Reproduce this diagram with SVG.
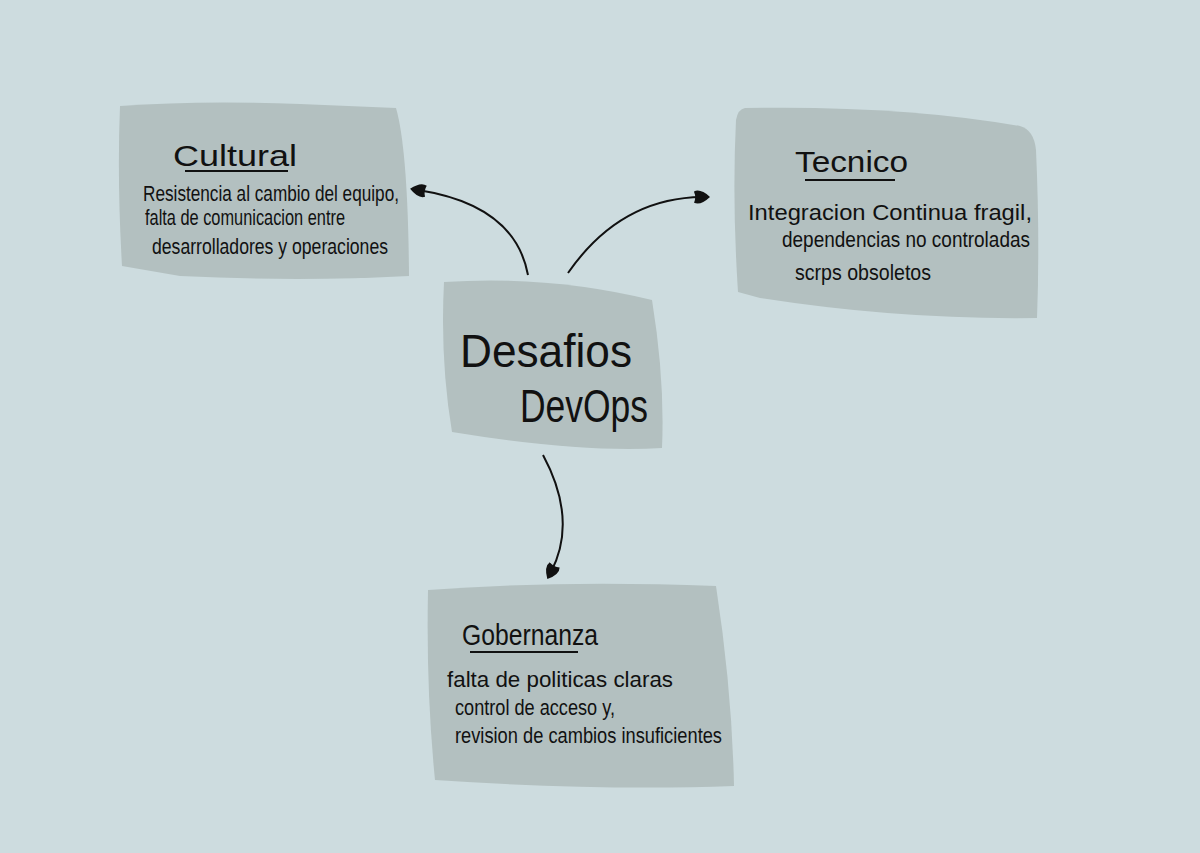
<svg xmlns="http://www.w3.org/2000/svg" width="1200" height="853" viewBox="0 0 1200 853">
<defs>
<style>
.box{fill:#b3c0c0}
.t{font-family:"Liberation Sans Narrow","Liberation Sans",sans-serif;fill:#111}
.title{font-size:30px}
.body{font-size:22px}
.big{font-size:46px}
.ul{stroke:#111;stroke-width:2;fill:none}
.conn{stroke:#111;stroke-width:2;fill:none;marker-end:url(#ah)}
</style>
<marker id="ah" viewBox="0 0 10 10" refX="5" refY="5" markerWidth="8" markerHeight="8" orient="auto" markerUnits="strokeWidth">
<path d="M0,1.5 Q4,-0.5 10,5 Q4,10.5 0,8.5 Q1.5,5 0,1.5 Z" fill="#111"/>
</marker>
</defs>
<rect width="1200" height="853" fill="#cddcdf"/>
<g id="connectors">
<path class="conn" d="M528,275 Q515,205 418,190"/>
<path class="conn" d="M568,273 Q620,198 702,197"/>
<path class="conn" d="M543,455 Q578,520 551,572"/>
</g>
<g id="node-cultural">
<path class="box" d="M120,106 Q200,100 300,104 L396,108 Q408,150 409,276 Q300,282 180,276 L122,266 Q117,180 120,106 Z"/>
<text class="t title" x="173" y="166" textLength="124" lengthAdjust="spacingAndGlyphs">Cultural</text>
<line class="ul" x1="185" y1="171" x2="288" y2="171"/>
<text class="t body" x="143" y="201" textLength="256" lengthAdjust="spacingAndGlyphs">Resistencia al cambio del equipo,</text>
<text class="t body" x="145" y="225" textLength="200" lengthAdjust="spacingAndGlyphs">falta de comunicacion entre</text>
<text class="t body" x="152" y="254" textLength="236" lengthAdjust="spacingAndGlyphs">desarrolladores y operaciones</text>
</g>
<g id="node-tecnico">
<path class="box" d="M745,108 Q900,105 1020,126 Q1034,130 1036,150 Q1040,240 1037,318 Q900,320 760,298 L738,292 Q732,200 736,120 Q738,109 745,108 Z"/>
<text class="t title" x="795" y="172" textLength="113" lengthAdjust="spacingAndGlyphs">Tecnico</text>
<line class="ul" x1="805" y1="180" x2="895" y2="180"/>
<text class="t body" x="748" y="220" textLength="284" lengthAdjust="spacingAndGlyphs">Integracion Continua fragil,</text>
<text class="t body" x="782" y="247" textLength="248" lengthAdjust="spacingAndGlyphs">dependencias no controladas</text>
<text class="t body" x="795" y="280" textLength="136" lengthAdjust="spacingAndGlyphs">scrps obsoletos</text>
</g>
<g id="node-center">
<path class="box" d="M444,282 Q550,275 652,300 Q665,380 662,448 Q580,453 452,432 Q440,360 444,282 Z"/>
<text class="t big" x="460" y="367" textLength="172" lengthAdjust="spacingAndGlyphs">Desafios</text>
<text class="t big" x="520" y="422" textLength="128" lengthAdjust="spacingAndGlyphs">DevOps</text>
</g>
<g id="node-gobernanza">
<path class="box" d="M428,590 Q560,580 716,586 Q732,690 734,786 Q600,791 435,780 Q426,690 428,590 Z"/>
<text class="t title" x="462" y="645" textLength="136" lengthAdjust="spacingAndGlyphs">Gobernanza</text>
<line class="ul" x1="470" y1="652" x2="578" y2="652"/>
<text class="t body" x="447" y="687" textLength="226" lengthAdjust="spacingAndGlyphs">falta de politicas claras</text>
<text class="t body" x="455" y="715" textLength="160" lengthAdjust="spacingAndGlyphs">control de acceso y,</text>
<text class="t body" x="455" y="743" textLength="267" lengthAdjust="spacingAndGlyphs">revision de cambios insuficientes</text>
</g>
</svg>
